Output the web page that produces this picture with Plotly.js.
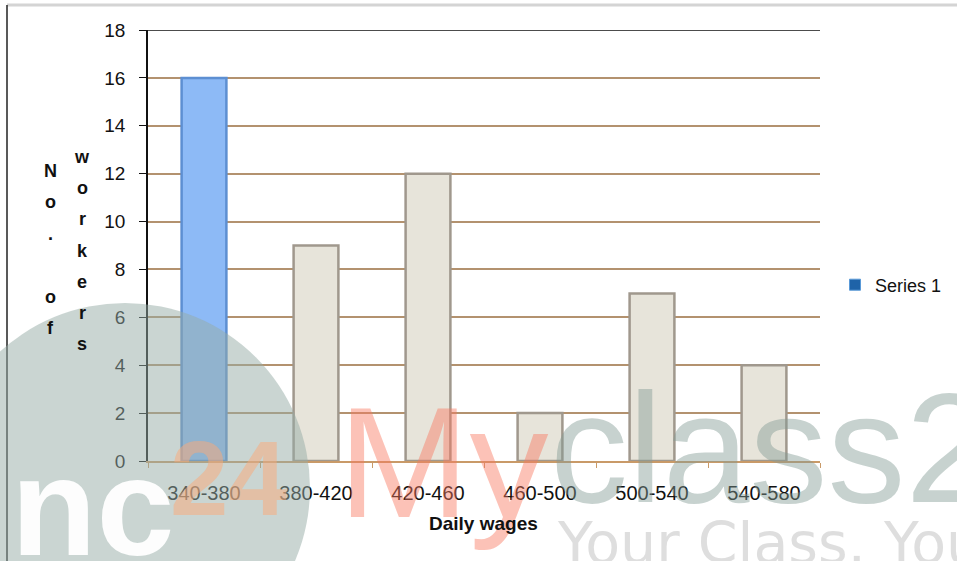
<!DOCTYPE html>
<html>
<head>
<meta charset="utf-8">
<script src="https://cdn.plot.ly/plotly-3.0.1.min.js"></script>
<style>html,body{margin:0;padding:0;background:#fff;}#chart{width:957px;height:561px;}</style>
</head>
<body>
<div id="chart"></div>
<script>
// ---- data ----
var categories = ["340-380", "380-420", "420-460", "460-500", "500-540", "540-580"];
var workers = [16, 9, 12, 2, 7, 4];
var seriesName = "Series 1";
var xTitle = "Daily wages";
var yTitleCol1 = "No. of";
var yTitleCol2 = "workers";
var yTicks = [0, 2, 4, 6, 8, 10, 12, 14, 16, 18];

// ---- layout helpers (pixel -> paper) ----
var L = 148, R = 820, T = 30, B = 461;
function px(x){ return (x - L) / (R - L); }
function py(y){ return (B - y) / (B - T); }

var FONT = "Liberation Sans, Arial, sans-serif";

var barColors = categories.map(function(c, i){ return i === 0 ? "#8dbaf6" : "#e7e4da"; });
var barLines = categories.map(function(c, i){ return i === 0 ? "#5d8fd2" : "#a0988d"; });

var traces = [
  {
    type: "bar", x: categories, y: workers, name: seriesName, showlegend: false,
    marker: { color: barColors, line: { color: barLines, width: 2.5 } },
    hoverinfo: "x+y"
  },
  {
    type: "scatter", mode: "markers", x: [null], y: [null], name: seriesName,
    marker: { symbol: "square", size: 11, color: "#1f63a8", line: { color: "#5a9ad8", width: 1 } }
  }
];

var annotations = [];
// watermark (drawn first so chart texts sit on top)
annotations.push({ xref: "paper", yref: "paper", x: px(9), y: py(426), text: "<b>nc</b>", showarrow: false,
  xanchor: "left", yanchor: "top", font: { family: "Liberation Sans, sans-serif", size: 140, color: "rgba(255,255,255,0.95)" } });
annotations.push({ xref: "paper", yref: "paper", x: px(228), y: py(478), text: "<b>24</b>", showarrow: false,
  xanchor: "center", yanchor: "middle", font: { family: "Liberation Sans, sans-serif", size: 105, color: "rgba(252,170,120,0.5)" } });
annotations.push({ xref: "paper", yref: "paper", x: px(443), y: py(462), text: "My", showarrow: false,
  xanchor: "center", yanchor: "middle", font: { family: "Liberation Sans, sans-serif", size: 158, color: "rgba(248,120,95,0.45)" } });
annotations.push({ xref: "paper", yref: "paper", x: px(548), y: py(448), text: "class24", showarrow: false,
  xanchor: "left", yanchor: "middle", font: { family: "Liberation Sans, sans-serif", size: 156, color: "rgba(130,155,148,0.45)" } });
annotations.push({ xref: "paper", yref: "paper", x: px(555), y: py(543), text: "Your Class. Your Notes", showarrow: false,
  xanchor: "left", yanchor: "middle", font: { family: "DejaVu Sans, sans-serif", size: 57, color: "rgba(200,200,200,0.6)" } });

// stacked vertical y title letters
function stack(str, xpix, y0, step){
  for (var i = 0; i < str.length; i++){
    var ch = str[i];
    if (ch === " ") continue;
    annotations.push({ xref: "paper", yref: "paper", x: px(xpix), y: py(y0 + i * step),
      text: "<b>" + ch + "</b>", showarrow: false, xanchor: "center", yanchor: "middle",
      font: { family: FONT, size: 18, color: "#111" } });
  }
}
stack(yTitleCol1, 50, 171, 31.4);
stack(yTitleCol2, 82, 157, 31.2);

annotations.push({ xref: "paper", yref: "paper", x: px(483), y: py(523), text: "<b>" + xTitle + "</b>",
  showarrow: false, xanchor: "center", yanchor: "middle", font: { family: FONT, size: 19, color: "#111" } });

var topA = yTicks[yTicks.length - 1], topB = yTicks[yTicks.length - 2];
var shapes = [
  // chart frame
  { type: "line", xref: "paper", yref: "paper", x0: px(7), x1: px(957), y0: py(5), y1: py(5), line: { color: "#d4d4d4", width: 3 } },
  { type: "line", xref: "paper", yref: "paper", x0: px(7), x1: px(7), y0: py(5), y1: py(561), line: { color: "#222", width: 1.5 } },
  // darker upper gridlines
  { type: "line", xref: "paper", yref: "y", x0: 0, x1: 1, y0: topA, y1: topA, layer: "below", line: { color: "#111", width: 1.5 } },
  { type: "line", xref: "paper", yref: "y", x0: 0, x1: 1, y0: topB, y1: topB, layer: "below", line: { color: "#111", width: 1.5 } },
  // watermark disc
  { type: "circle", xref: "paper", yref: "paper", x0: px(-60), x1: px(310), y0: py(303), y1: py(673), layer: "above",
    fillcolor: "rgba(150,172,166,0.5)", line: { width: 0 } }
];

var layout = {
  width: 957, height: 561,
  margin: { l: L, r: 957 - R, t: T, b: 561 - B, pad: 0, autoexpand: false },
  paper_bgcolor: "#fff", plot_bgcolor: "#fff",
  font: { family: FONT, size: 20, color: "#111" },
  bargap: 0.6,
  xaxis: {
    type: "category", showline: true, linecolor: "#c99a68", linewidth: 1.5,
    ticks: "outside", tickson: "boundaries", ticklen: 5, tickcolor: "#c99a68",
    ticklabelstandoff: 13, tickfont: { family: FONT, size: 20, color: "#111" },
    showgrid: false, zeroline: false
  },
  yaxis: {
    range: [0, 18], tickvals: yTicks, showline: true, linecolor: "#111", linewidth: 1.5,
    ticks: "outside", ticklen: 7, tickcolor: "#111", ticklabelstandoff: 10,
    tickfont: { family: FONT, size: 19, color: "#111" },
    showgrid: true, gridcolor: "#b3926f", gridwidth: 1.5, zeroline: false
  },
  showlegend: true,
  legend: { x: px(835), y: py(285), xanchor: "left", yanchor: "middle", bgcolor: "rgba(0,0,0,0)",
    font: { family: FONT, size: 18, color: "#111" }, itemwidth: 30 },
  annotations: annotations,
  shapes: shapes
};

Plotly.newPlot("chart", traces, layout, { displayModeBar: false, responsive: false });
</script>
</body>
</html>
